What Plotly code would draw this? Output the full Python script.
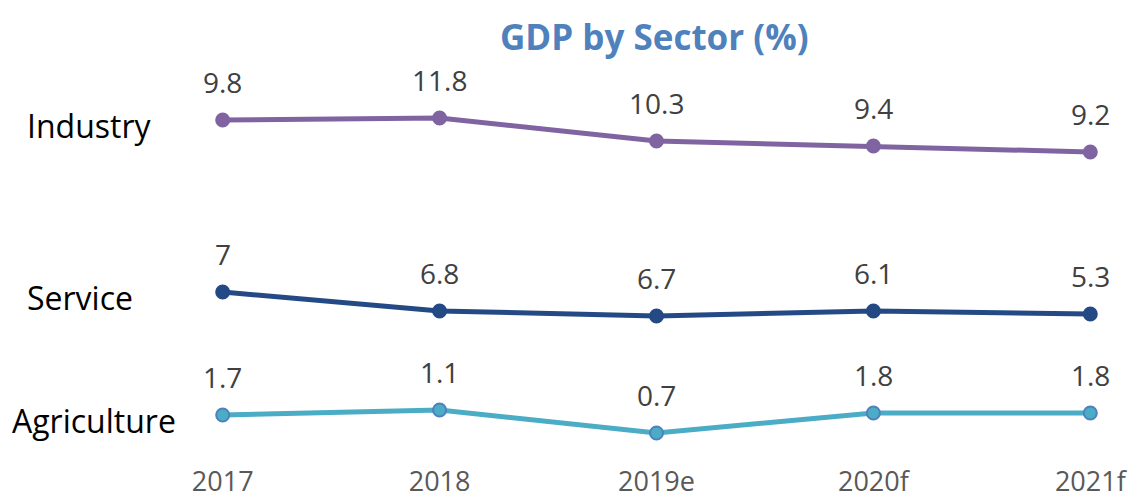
import plotly.graph_objects as go

years = ["2017", "2018", "2019e", "2020f", "2021f"]
series_names = ["Industry", "Service", "Agriculture"]

# data labels shown on the chart (%)
industry_labels = [9.8, 11.8, 10.3, 9.4, 9.2]
service_labels = [7, 6.8, 6.7, 6.1, 5.3]
agriculture_labels = [1.7, 1.1, 0.7, 1.8, 1.8]

# plotted line levels (hidden axis units)
industry_level = [34.0, 34.2, 31.9, 31.4, 30.8]
service_level = [16.8, 14.9, 14.4, 14.9, 14.6]
agriculture_level = [4.5, 5.0, 2.7, 4.7, 4.7]

colors = ["#8064A2", "#234A84", "#4BACC6"]
marker_lines = ["#8064A2", "#234A84", "#4F81BD"]
name_x = [-0.122, -0.133, -0.118]

levels = [industry_level, service_level, agriculture_level]
labels = [industry_labels, service_labels, agriculture_labels]

fig = go.Figure()
annotations = []
for name, lv, lb, c, ml, nx in zip(series_names, levels, labels, colors,
                                   marker_lines, name_x):
    fig.add_trace(go.Scatter(
        x=years, y=lv, mode="lines+markers", name=name,
        line=dict(color=c, width=5),
        marker=dict(color=c, size=13, line=dict(color=ml, width=2)),
        cliponaxis=False, showlegend=False,
    ))
    for i, (yv, t) in enumerate(zip(lv, lb)):
        annotations.append(dict(
            x=i, y=yv, xref="x", yref="y", text=f"{t:g}", showarrow=False,
            yshift=38, font=dict(family="Open Sans", size=28, color="#404040"),
        ))
    annotations.append(dict(
        x=nx, y=lv[0], xref="paper", yref="y", text=name, showarrow=False,
        xanchor="center", yshift=-5,
        font=dict(family="Open Sans", size=32, color="#000000"),
    ))

annotations.append(dict(
    x=(654 - 201) / 911, y=(460 - 37) / 400, xref="paper", yref="paper",
    text="<b>GDP by Sector (%)</b>", showarrow=False, yanchor="middle",
    font=dict(family="Open Sans", size=35, color="#4F81BD"),
))

fig.update_layout(
    width=1130, height=498,
    margin=dict(l=201, r=18, t=60, b=38, autoexpand=False),
    plot_bgcolor="white", paper_bgcolor="white",
    annotations=annotations,
    xaxis=dict(
        type="category", range=[-0.1, 4.1], showgrid=False, zeroline=False,
        showline=False, ticks="", ticklabelstandoff=3, automargin=False,
        tickfont=dict(family="Open Sans", size=27, color="#595959"),
    ),
    yaxis=dict(range=[0, 40], visible=False, showgrid=False, zeroline=False,
               automargin=False),
)

fig.write_html("out.html", config={"displayModeBar": False},
               post_script="document.body.style.margin='0';")
